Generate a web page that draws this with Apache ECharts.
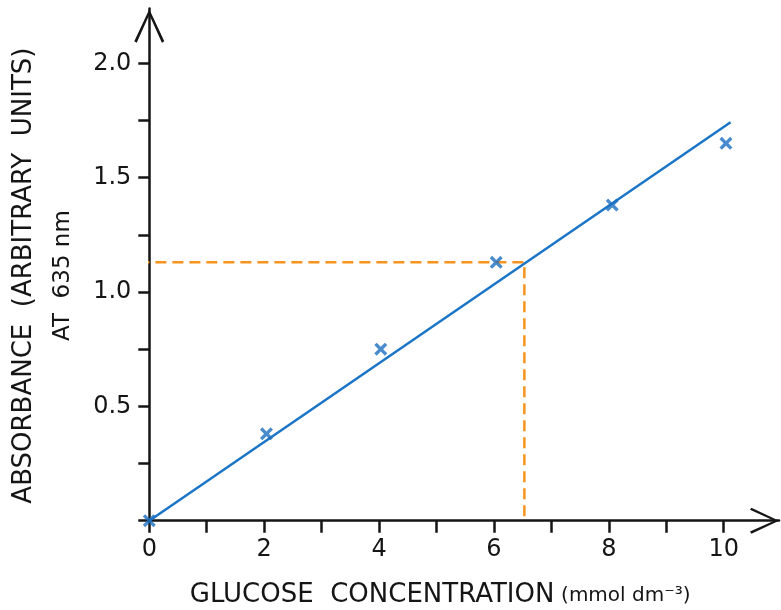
<!DOCTYPE html>
<html>
<head>
<meta charset="utf-8">
<script src="https://cdn.jsdelivr.net/npm/echarts@6/dist/echarts.min.js"></script>
<style>html,body{margin:0;padding:0;background:#fff}#c{width:781px;height:610px}</style>
</head>
<body>
<div id="c"></div>
<script>
// Data
const concX = [0, 2.04, 4.03, 6.04, 8.06, 10.04];
const absorbY = [0, 0.38, 0.75, 1.13, 1.38, 1.65];
const fitX = [0, 10.12];
const fitY = [0, 1.742];
const readX = [-0.19, 6.53, 6.53];
const readY = [1.13, 1.13, 0];
const xTickValues = [0, 1, 2, 3, 4, 5, 6, 7, 8, 9, 10];
const xLabelValues = [0, 2, 4, 6, 8, 10];
const yTickValues = [0, 0.25, 0.5, 0.75, 1.0, 1.25, 1.5, 1.75, 2.0];
const yLabelValues = [0.5, 1.0, 1.5, 2.0];
const xTitle = 'GLUCOSE  CONCENTRATION';
const xUnit = '(mmol dm⁻³)';
const yTitle1 = 'ABSORBANCE  (ARBITRARY  UNITS)';
const yTitle2 = 'AT  635 nm';

const FONT = 'DejaVu Sans';
const AX = '#151515';
const chevron = 'path://M15 0 L30 32 L27.6 33.6 L15 5.6 L2.4 33.6 L0 32 Z';
const cross = 'path://M0 2.2 L2.2 0 L6 3.8 L9.8 0 L12 2.2 L8.2 6 L12 9.8 L9.8 12 L6 8.2 L2.2 12 L0 9.8 L3.8 6 Z';

const zip = (a, b) => a.map((v, i) => [v, b[i]]);

const chart = echarts.init(document.getElementById('c'), null, {renderer: 'canvas'});
chart.setOption({
  animation: false,
  backgroundColor: '#fff',
  grid: {left: 149.3, right: 2, top: 8.5, bottom: 89.3, containLabel: false, outerBoundsMode: 'none'},
  xAxis: {
    type: 'value', min: 0, max: 10.963,
    axisLine: {show: true, onZero: false, lineStyle: {color: AX, width: 2.5},
      symbol: ['none', chevron], symbolSize: [28, 29], symbolOffset: [0, -14.5]},
    axisTick: {show: true, length: 12, lineStyle: {color: AX, width: 2.5}, customValues: xTickValues},
    axisLabel: {show: true, margin: 17, fontFamily: FONT, fontSize: 24, color: AX,
      customValues: xLabelValues, formatter: v => String(v)},
    splitLine: {show: false},
    name: '{a|' + xTitle + '}  {b|' + xUnit + '}',
    nameLocation: 'middle', nameGap: 60,
    nameTextStyle: {padding: [0, 48, 0, 0],
      rich: {a: {fontFamily: FONT, fontSize: 26, color: AX, lineHeight: 30},
             b: {fontFamily: FONT, fontSize: 20, color: AX, lineHeight: 30}}}
  },
  yAxis: {
    type: 'value', min: 0, max: 2.2396,
    axisLine: {show: true, onZero: false, lineStyle: {color: AX, width: 2.5},
      symbol: ['none', chevron], symbolSize: [30, 35], symbolOffset: [0, -17.5]},
    axisTick: {show: true, length: 11, lineStyle: {color: AX, width: 2.5}, customValues: yTickValues},
    axisLabel: {show: true, margin: 18, fontFamily: FONT, fontSize: 24, color: AX,
      customValues: yLabelValues, formatter: v => v.toFixed(1)},
    splitLine: {show: false},
    name: '{a|' + yTitle1 + '}\n{b|' + yTitle2 + '}',
    nameLocation: 'middle', nameGap: 67,
    nameTextStyle: {padding: [0, 22, 0, 0], align: 'center',
      rich: {a: {fontFamily: FONT, fontSize: 26, color: AX, lineHeight: 39, align: 'center'},
             b: {fontFamily: FONT, fontSize: 23, color: AX, lineHeight: 39, align: 'center'}}}
  },
  series: [
    {
      type: 'line', data: zip(readX, readY), clip: false, symbol: 'none',
      lineStyle: {color: '#f7941d', width: 2.5, type: [11, 6]}, z: 2
    },
    {
      type: 'line', data: zip(fitX, fitY), symbol: 'none', clip: false,
      lineStyle: {color: '#1b75c6', width: 2.5}, z: 3
    },
    {
      type: 'scatter', data: zip(concX, absorbY), symbol: cross, symbolSize: 13,
      itemStyle: {color: '#1b6fc0'}, clip: false, z: 4
    }
  ]
});
</script>
</body>
</html>
